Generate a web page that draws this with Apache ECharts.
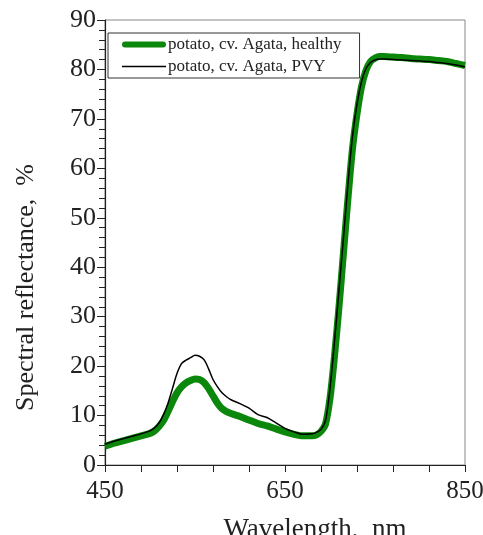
<!DOCTYPE html>
<html>
<head>
<meta charset="utf-8">
<script src="https://cdn.jsdelivr.net/npm/echarts@6/dist/echarts.min.js"></script>
<style>
    html, body { margin: 0; padding: 0; background: #fff; }
    #main { width: 483px; height: 535px; }
</style>
</head>
<body>
<div id="main"></div>
<script>
// wavelength, nm
var wavelengths = [450, 460, 470, 480, 490, 500, 505, 510, 515, 520, 525, 530, 535, 540, 545, 550, 555, 560, 565, 570,
    575, 580, 585, 590, 600, 610, 620, 630, 640, 650, 660, 670, 680, 685, 690, 695,
    700, 705, 710, 715, 720, 725, 730, 735, 740, 745, 750, 755, 760, 770, 780, 790, 800, 810, 820, 830, 840, 850];
// reflectance, %
var healthy = [3.8, 4.4, 4.9, 5.4, 5.9, 6.4, 6.9, 7.8, 9.0, 10.8, 12.8, 14.6, 15.8, 16.6, 17.1, 17.4, 17.3, 16.7, 15.5, 14.0,
    12.5, 11.4, 10.8, 10.4, 9.8, 9.1, 8.4, 7.9, 7.3, 6.7, 6.2, 5.9, 5.9, 6.1, 6.8, 8.3,
    13.5, 22, 32, 43, 54, 64, 71, 76.5, 79.8, 81.6, 82.3, 82.6, 82.6, 82.5, 82.4, 82.2, 82.1, 82.0, 81.8, 81.6, 81.2, 80.8];
var pvy = [4.2, 4.8, 5.3, 5.8, 6.3, 6.9, 7.5, 8.5, 10.2, 12.5, 15.5, 18.5, 20.5, 21.2, 21.7, 22.2, 22.0, 21.3, 19.5, 17.3,
    15.8, 14.6, 13.8, 13.2, 12.4, 11.5, 10.2, 9.6, 8.5, 7.4, 6.7, 6.2, 6.3, 6.6, 7.2, 9.0,
    15.5, 25, 35.5, 46, 57, 66.5, 73, 77.5, 80.2, 81.4, 81.9, 82.1, 82.1, 82.0, 81.9, 81.8, 81.7, 81.6, 81.4, 81.2, 80.9, 80.5];
var seriesNames = ['potato, cv. Agata, healthy', 'potato, cv. Agata, PVY'];

function pairs(xs, ys) {
    var out = [];
    for (var i = 0; i < xs.length; i++) {
        out.push([xs[i], ys[i]]);
    }
    return out;
}

var font = 'Liberation Serif, Times New Roman, serif';
var green = '#0b870b';
var chart = echarts.init(document.getElementById('main'));

var option = {
    animation: false,
    grid: {
        left: 105, top: 20, right: 18, bottom: 70,
        outerBoundsMode: 'none',
        show: true, borderColor: '#888', borderWidth: 1
    },
    legend: {
        orient: 'vertical',
        left: 108, top: 33,
        data: [
            { name: seriesNames[0], icon: 'path://M3,0 H41 A3,3 0 0 1 41,6 H3 A3,3 0 0 1 3,0 Z' },
            { name: seriesNames[1], icon: 'path://M0,0 H44 V1.6 H0 Z' }
        ],
        symbolKeepAspect: true,
        borderColor: '#333', borderWidth: 1,
        padding: [3, 18, 3, 14],
        itemWidth: 44, itemHeight: 8, itemGap: 5,
        textStyle: { fontFamily: font, fontSize: 17, color: '#222', padding: [0, 0, 0, -3] }
    },
    xAxis: {
        type: 'value',
        min: 450, max: 850, interval: 200,
        name: 'Wavelength,  nm',
        nameLocation: 'middle', nameGap: 51,
        nameTextStyle: { fontFamily: font, fontSize: 27, color: '#222', padding: [0, 0, 0, 60] },
        axisLine: { onZero: false, lineStyle: { color: '#222', width: 1.2 } },
        axisTick: { show: true, length: 7, inside: false, lineStyle: { color: '#222' } },
        minorTick: { show: true, splitNumber: 5, length: 7, lineStyle: { color: '#222' } },
        axisLabel: { fontFamily: font, fontSize: 25, color: '#222', margin: 14 },
        splitLine: { show: false }
    },
    yAxis: {
        type: 'value',
        min: 0, max: 90, interval: 10,
        name: 'Spectral reflectance,  %',
        nameLocation: 'middle', nameGap: 66,
        nameTextStyle: { fontFamily: font, fontSize: 26, color: '#222', padding: [0, 90, 0, 0] },
        axisLine: { show: true, lineStyle: { color: '#222', width: 1.2 } },
        axisTick: { show: true, length: 8, lineStyle: { color: '#222' } },
        minorTick: { show: true, splitNumber: 5, length: 6, lineStyle: { color: '#222' } },
        axisLabel: { fontFamily: font, fontSize: 26, color: '#222', margin: 9 },
        splitLine: { show: false }
    },
    series: [
        {
            name: seriesNames[0],
            type: 'line',
            data: pairs(wavelengths, healthy),
            showSymbol: false, symbol: 'none',
            smooth: 0.3,
            lineStyle: { color: green, width: 7 },
            itemStyle: { color: green },
            z: 2
        },
        {
            name: seriesNames[1],
            type: 'line',
            data: pairs(wavelengths, pvy),
            showSymbol: false, symbol: 'none',
            smooth: 0.3,
            lineStyle: { color: '#000', width: 1.5 },
            itemStyle: { color: '#000' },
            z: 3
        }
    ]
};

chart.setOption(option);
</script>
</body>
</html>
